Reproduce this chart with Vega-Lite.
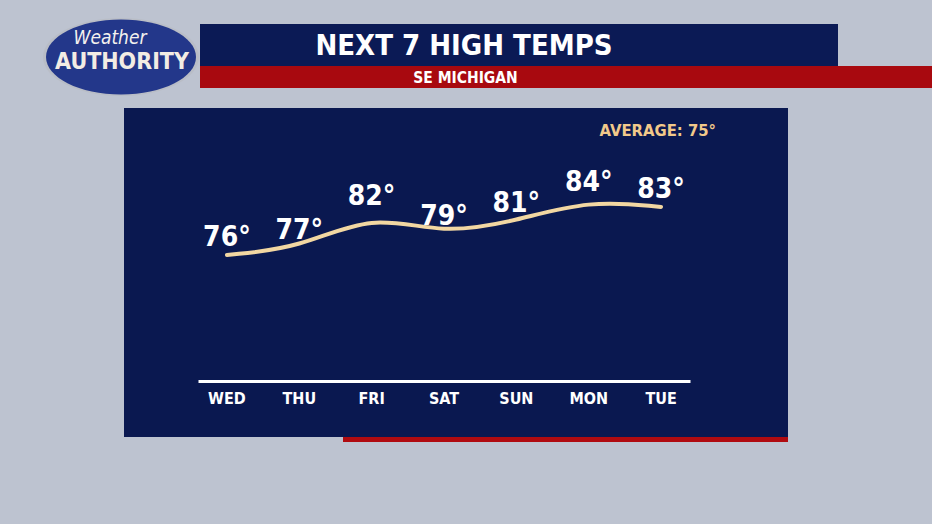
{
  "$schema": "https://vega.github.io/schema/vega-lite/v6.json",
  "background": "#bdc3d0",
  "padding": {"left": 0, "top": 17, "right": 0, "bottom": 82},
  "config": {
    "view": {"stroke": null},
    "concat": {"spacing": 0},
    "font": "DejaVu Sans Condensed, sans-serif"
  },
  "spacing": 0,
  "vconcat": [
    {
      "spacing": 0,
      "hconcat": [
        {"width": 42, "height": 80, "data": {"values": []}, "mark": {"type": "point", "opacity": 0}},
        {
          "width": 158, "height": 80,
          "data": {"values": [{"a": "Weather", "b": "AUTHORITY"}]},
          "layer": [
            {"mark": {"type": "point", "shape": "M1,0C1,0.276 0.552,0.5 0,0.5C-0.552,0.5 -1,0.276 -1,0C-1,-0.276 -0.552,-0.5 0,-0.5C0.552,-0.5 1,-0.276 1,0Z", "size": 24336, "filled": true, "fill": "#b9bdc6", "strokeWidth": 0, "opacity": 1}},
            {"mark": {"type": "point", "shape": "M1,0C1,0.276 0.552,0.5 0,0.5C-0.552,0.5 -1,0.276 -1,0C-1,-0.276 -0.552,-0.5 0,-0.5C0.552,-0.5 1,-0.276 1,0Z", "size": 22500, "filled": true, "fill": "#23378a", "strokeWidth": 0, "opacity": 1}},
            {"mark": {"type": "text", "fontStyle": "italic", "fontSize": 19, "color": "#f4f1ee", "dx": -11, "dy": -19}, "encoding": {"text": {"field": "a"}}},
            {"mark": {"type": "text", "fontWeight": "bold", "fontSize": 23, "color": "#f2ece4", "dx": 1, "dy": 5}, "encoding": {"text": {"field": "b"}}}
          ]
        },
        {
          "spacing": 0,
          "vconcat": [
            {"width": 10, "height": 7, "data": {"values": []}, "mark": {"type": "point", "opacity": 0}},
            {
              "spacing": 0,
              "hconcat": [
                {
                  "width": 528, "height": 42, "view": {"fill": "#0b1a55"},
                  "data": {"values": [{"t": "NEXT 7 HIGH TEMPS"}]},
                  "mark": {"type": "text", "fontWeight": "bold", "fontSize": 29, "color": "#ffffff", "dy": 1},
                  "encoding": {"text": {"field": "t"}}
                },
                {"width": 110, "height": 42, "view": {"fill": "#0b1a55"}, "data": {"values": []}, "mark": {"type": "point", "opacity": 0}}
              ]
            },
            {
              "spacing": 0,
              "hconcat": [
                {
                  "width": 531, "height": 22, "view": {"fill": "#a8090f"},
                  "data": {"values": [{"t": "SE MICHIGAN"}]},
                  "mark": {"type": "text", "fontWeight": "bold", "fontSize": 15.5, "color": "#ffffff", "dy": 1},
                  "encoding": {"text": {"field": "t"}}
                },
                {"width": 201, "height": 22, "view": {"fill": "#a8090f"}, "data": {"values": []}, "mark": {"type": "point", "opacity": 0}}
              ]
            }
          ]
        }
      ]
    },
    {"width": 10, "height": 11, "data": {"values": []}, "mark": {"type": "point", "opacity": 0}},
    {
      "spacing": 0,
      "hconcat": [
        {"width": 124, "height": 329, "data": {"values": []}, "mark": {"type": "point", "opacity": 0}},
        {
          "width": 664, "height": 329,
          "view": {"fill": "#0a1850"},
          "layer": [
            {
              "data": {
                "values": [
                  {"day": "WED", "temp": 76, "label": "76°"},
                  {"day": "THU", "temp": 77, "label": "77°"},
                  {"day": "FRI", "temp": 82, "label": "82°"},
                  {"day": "SAT", "temp": 79, "label": "79°"},
                  {"day": "SUN", "temp": 81, "label": "81°"},
                  {"day": "MON", "temp": 84, "label": "84°"},
                  {"day": "TUE", "temp": 83, "label": "83°"}
                ]
              },
              "encoding": {
                "x": {
                  "field": "day", "type": "ordinal", "sort": null, "bandPosition": 0.5,
                  "scale": {"type": "band", "range": [74, 566], "paddingInner": 0.2, "paddingOuter": 0},
                  "axis": {
                    "title": null, "orient": "bottom", "offset": -56, "ticks": false, "grid": false,
                    "domainColor": "#ffffff", "domainWidth": 3, "labelColor": "#ffffff",
                    "labelFont": "DejaVu Sans Condensed, sans-serif",
                    "labelFontSize": 16, "labelFontWeight": "bold", "labelPadding": 9, "labelAngle": 0
                  }
                },
                "y": {
                  "field": "temp", "type": "quantitative",
                  "scale": {"domain": [49.5, 97.4], "nice": false, "zero": false},
                  "axis": null
                }
              },
              "layer": [
                {"mark": {"type": "line", "interpolate": "basis", "color": "#f2d7a2", "strokeWidth": 4, "strokeCap": "round"}},
                {"mark": {"type": "text", "fontWeight": "bold", "fontSize": 28, "color": "#ffffff", "dy": -17, "baseline": "middle"}, "encoding": {"text": {"field": "label"}}}
              ]
            },
            {
              "data": {"values": [{"t": "AVERAGE: 75°"}]},
              "mark": {"type": "text", "align": "right", "baseline": "alphabetic", "dx": 260, "dy": -136.5, "fontWeight": "bold", "fontSize": 16.5, "color": "#f2c98a"},
              "encoding": {"text": {"field": "t"}}
            }
          ]
        }
      ]
    },
    {
      "spacing": 0,
      "hconcat": [
        {"width": 343, "height": 5, "data": {"values": []}, "mark": {"type": "point", "opacity": 0}},
        {"width": 445, "height": 5, "view": {"fill": "#b00b10"}, "data": {"values": []}, "mark": {"type": "point", "opacity": 0}}
      ]
    }
  ]
}
